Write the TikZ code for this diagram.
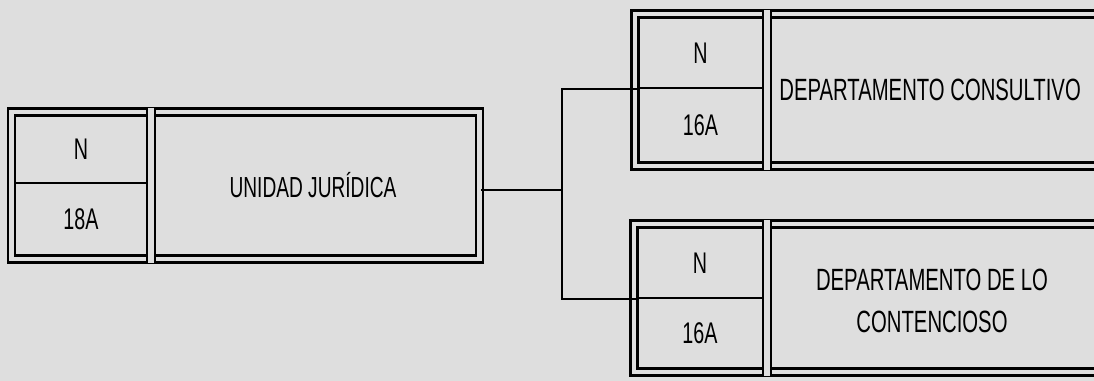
\documentclass[tikz,border=0pt]{standalone}
\usepackage{fontspec}
\usepackage{tikz}
\usetikzlibrary{positioning,calc}
\newfontfamily\orgfont[FakeStretch=0.66]{Liberation Sans}
\definecolor{scan}{gray}{0.87}

\begin{document}
\begin{tikzpicture}[x=0.02cm,y=-0.02cm,
    frame/.style={draw, line width=1.5pt, double=scan, double distance=2.6pt, inner sep=0pt},
    sepline/.style={draw, line width=1.3pt, double=scan, double distance=3.1pt},
    cell/.style={draw, line width=1.1pt, inner sep=0pt, font=\orgfont\fontsize{17}{20}\selectfont},
    label/.style={inner sep=0pt, font=\orgfont\fontsize{17.5}{24}\selectfont},
    conn/.style={line width=1.1pt}]
    % background of the scan
    \fill[scan] (0,0) rectangle (1094,381);
    \useasboundingbox (0,0) rectangle (1094,381);
    \clip (0,0) rectangle (1094,381);

    % Unidad juridica
    \node[frame, minimum width=9.36cm, minimum height=2.94cm] (uj) at (245.5,185.5) {};
    \draw[sepline] (151,108) -- (151,263);
    \node[cell, minimum width=2.64cm, minimum height=1.34cm] (ujN) at (81,149.5) {N};
    \node[cell, minimum width=2.64cm, minimum height=1.44cm] (ujG) at (81,219) {18A};
    \node[label, font=\orgfont\fontsize{16.5}{18}\selectfont] (ujT) at (313,185) {UNIDAD JUR\'IDICA};

    % Departamento consultivo
    \node[frame, minimum width=9.7cm, minimum height=3.04cm] (dc) at (877.5,90) {};
    \draw[sepline] (767,10) -- (767,170);
    \node[cell, minimum width=2.5cm, minimum height=1.4cm] (dcN) at (700.5,53) {N};
    \node[cell, minimum width=2.5cm, minimum height=1.5cm] (dcG) at (700.5,125.5) {16A};
    \node[label, anchor=west] (dcT) at (779,90) {DEPARTAMENTO CONSULTIVO};

    % Departamento de lo contencioso
    \node[frame, minimum width=9.72cm, minimum height=2.96cm] (dl) at (877,298) {};
    \draw[sepline] (767,220) -- (767,376);
    \node[cell, minimum width=2.52cm, minimum height=1.4cm] (dlN) at (700,263) {N};
    \node[cell, minimum width=2.52cm, minimum height=1.4cm] (dlG) at (700,333) {16A};
    \node[label, align=center] (dlT) at (932,301) {DEPARTAMENTO DE LO\\CONTENCIOSO};

    % Connectors
    \coordinate (jn) at (562,190);
    \draw[conn] (uj.east |- jn) -- (jn);
    \draw[conn] (dcN.south west) -- (dcN.south west -| jn) -- (dlN.south west -| jn) -- (dlN.south west);
\end{tikzpicture}
\end{document}
